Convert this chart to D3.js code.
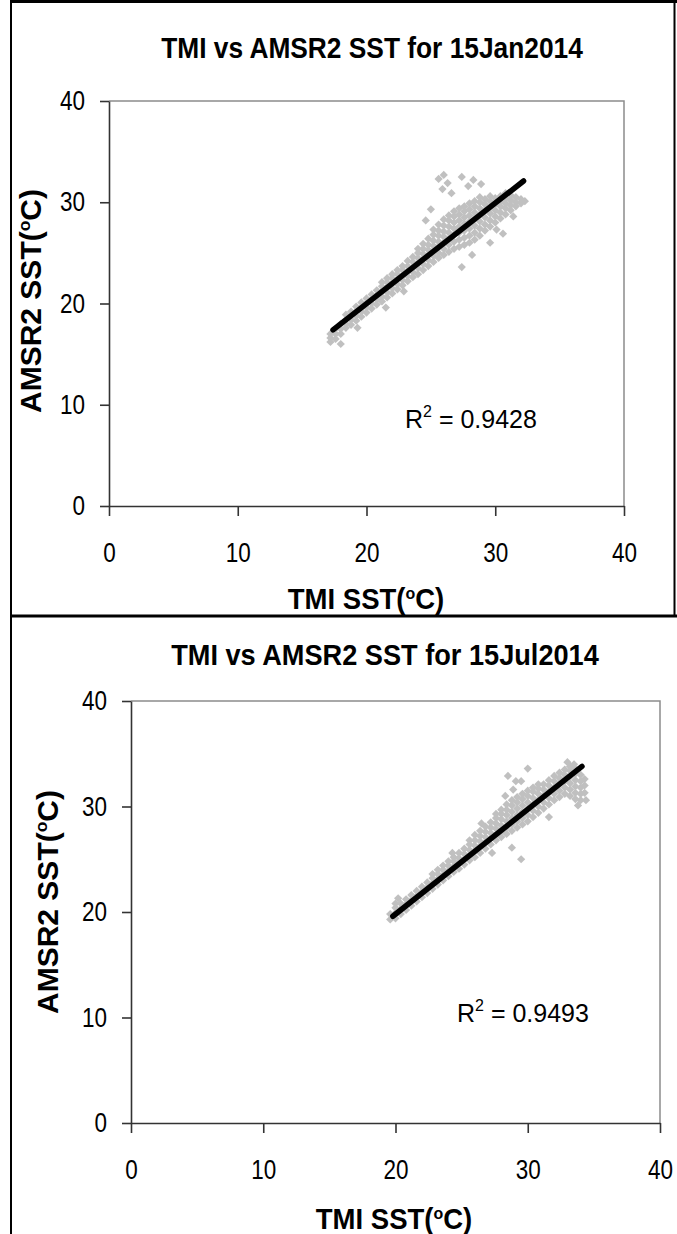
<!DOCTYPE html>
<html>
<head>
<meta charset="utf-8">
<script src="https://cdn.jsdelivr.net/npm/d3@7"></script>
<style>
  body { margin: 0; background: #fff; }
  svg { display: block; }
  text { font-family: "Liberation Sans", Arial, sans-serif; fill: #000; }
</style>
</head>
<body>
<svg id="chart" width="677" height="1234"></svg>
<script>
// ---- data -------------------------------------------------------------
const axisTicks = [0, 10, 20, 30, 40];
const panelTitles = ["TMI vs AMSR2 SST for 15Jan2014", "TMI vs AMSR2 SST for 15Jul2014"];
const rSquared = [0.9428, 0.9493];

// TMI SST (°C) -> list of AMSR2 SST (°C) values observed at that TMI value
const janCloud = [
  [17.2, [16.2, 16.6, 17.0]],
  [17.6, [16.5, 17.0, 17.5]],
  [18.0, [17.0, 17.5, 18.0]],
  [18.4, [17.6, 18.0, 18.4, 18.9]],
  [18.8, [17.9, 18.4, 18.8, 19.2]],
  [19.2, [18.3, 18.8, 19.2, 19.7]],
  [19.6, [18.7, 19.2, 19.6, 20.1]],
  [20.0, [19.1, 19.6, 20.0, 20.5]],
  [20.4, [19.5, 20.0, 20.4, 20.9]],
  [20.8, [19.9, 20.4, 20.8, 21.3]],
  [21.2, [20.2, 20.7, 21.2, 21.7, 22.1]],
  [21.6, [20.6, 21.1, 21.6, 22.1, 22.5]],
  [22.0, [21.0, 21.5, 22.0, 22.5, 22.9]],
  [22.4, [21.4, 21.9, 22.4, 22.9, 23.3]],
  [22.8, [21.8, 22.3, 22.8, 23.3, 23.7]],
  [23.2, [22.2, 22.7, 23.2, 23.7, 24.2]],
  [23.6, [22.6, 23.1, 23.6, 24.1, 24.6]],
  [24.0, [22.9, 23.5, 24.0, 24.5, 25.0, 25.4]],
  [24.4, [23.3, 23.9, 24.4, 24.9, 25.4, 25.9]],
  [24.8, [23.7, 24.3, 24.8, 25.3, 25.8, 26.4]],
  [25.2, [24.1, 24.7, 25.2, 25.7, 26.2, 26.8, 27.3]],
  [25.6, [24.5, 25.0, 25.6, 26.1, 26.7, 27.2, 27.8]],
  [26.0, [24.8, 25.4, 26.0, 26.6, 27.1, 27.7, 28.3]],
  [26.4, [25.1, 25.8, 26.4, 27.0, 27.6, 28.2, 28.7]],
  [26.8, [25.4, 26.1, 26.8, 27.4, 28.0, 28.6, 29.1]],
  [27.2, [25.6, 26.3, 27.0, 27.6, 28.2, 28.8, 29.4]],
  [27.6, [25.8, 26.5, 27.2, 27.9, 28.5, 29.1, 29.6]],
  [28.0, [26.0, 26.7, 27.4, 28.1, 28.7, 29.3, 29.9]],
  [28.4, [26.3, 27.0, 27.7, 28.4, 29.0, 29.6, 30.1]],
  [28.8, [26.7, 27.4, 28.1, 28.8, 29.4, 30.0, 30.5]],
  [29.2, [27.2, 27.8, 28.5, 29.2, 29.8, 30.3]],
  [29.6, [27.6, 28.2, 28.9, 29.5, 30.1, 30.6]],
  [30.0, [28.0, 28.6, 29.2, 29.8, 30.4]],
  [30.4, [28.4, 29.0, 29.6, 30.1, 30.6]],
  [30.8, [28.8, 29.4, 29.9, 30.4, 30.9]],
  [31.2, [29.2, 29.7, 30.2, 30.7]],
  [31.6, [29.6, 30.0, 30.5]],
  [32.0, [29.9, 30.3]]
];
const janOutliers = [
  [25.6, 32.3], [26.0, 32.7], [26.3, 31.9], [25.9, 31.3], [27.4, 32.5],
  [27.9, 31.6], [28.3, 32.2], [28.9, 31.8], [26.6, 30.9], [25.0, 29.3],
  [24.6, 28.2], [27.4, 23.6], [28.2, 24.8], [30.1, 27.3], [30.6, 26.9],
  [31.4, 28.6], [32.3, 30.1], [29.6, 26.0], [22.9, 21.2], [21.5, 19.6],
  [18.0, 16.0], [19.3, 17.6]
];
const janFit = [[17.4, 17.4], [32.2, 32.1]];

const julCloud = [
  [19.6, [19.3, 19.8]],
  [20.0, [19.4, 19.9, 20.4, 20.8]],
  [20.4, [19.8, 20.3, 20.8]],
  [20.8, [20.2, 20.7, 21.2]],
  [21.2, [20.6, 21.1, 21.6]],
  [21.6, [21.0, 21.5, 22.0]],
  [22.0, [21.4, 21.9, 22.4]],
  [22.4, [21.8, 22.3, 22.8]],
  [22.8, [22.2, 22.7, 23.2, 23.6]],
  [23.2, [22.6, 23.1, 23.6, 24.0]],
  [23.6, [23.0, 23.5, 24.0, 24.4]],
  [24.0, [23.4, 23.9, 24.4, 24.8]],
  [24.4, [23.8, 24.3, 24.8, 25.2]],
  [24.8, [24.1, 24.6, 25.1, 25.6]],
  [25.2, [24.5, 25.0, 25.5, 26.0]],
  [25.6, [24.9, 25.4, 25.9, 26.4, 26.8]],
  [26.0, [25.2, 25.8, 26.3, 26.8, 27.3]],
  [26.4, [25.6, 26.2, 26.7, 27.2, 27.7]],
  [26.8, [26.0, 26.6, 27.1, 27.6, 28.1]],
  [27.2, [26.4, 27.0, 27.5, 28.0, 28.5]],
  [27.6, [26.8, 27.3, 27.9, 28.4, 28.9, 29.3]],
  [28.0, [27.1, 27.6, 28.2, 28.8, 29.3, 29.7]],
  [28.4, [27.4, 28.0, 28.6, 29.2, 29.7, 30.2]],
  [28.8, [27.7, 28.3, 28.9, 29.5, 30.1, 30.6]],
  [29.2, [28.0, 28.6, 29.2, 29.8, 30.4, 30.9]],
  [29.6, [28.3, 28.9, 29.5, 30.1, 30.7, 31.2]],
  [30.0, [28.6, 29.2, 29.8, 30.4, 31.0, 31.5]],
  [30.4, [29.0, 29.6, 30.2, 30.8, 31.4, 31.8]],
  [30.8, [29.4, 30.0, 30.6, 31.2, 31.7, 32.1]],
  [31.2, [29.8, 30.4, 31.0, 31.6, 32.1]],
  [31.6, [30.2, 30.8, 31.4, 32.0, 32.5]],
  [32.0, [30.6, 31.2, 31.8, 32.4, 32.9]],
  [32.4, [30.9, 31.5, 32.1, 32.7, 33.2]],
  [32.8, [31.2, 31.8, 32.4, 33.0, 33.5]],
  [33.2, [31.0, 31.6, 32.2, 32.8, 33.4, 33.8]],
  [33.6, [30.7, 31.3, 31.9, 32.5, 33.1, 33.6]],
  [34.0, [30.6, 31.2, 31.8, 32.4, 33.0]],
  [34.3, [31.3, 32.0, 32.6]]
];
const julOutliers = [
  [28.5, 32.9], [29.1, 32.4], [29.5, 32.4], [30.0, 33.6], [28.9, 31.6],
  [28.3, 31.0], [29.5, 25.0], [28.8, 26.1], [31.6, 29.0], [33.0, 34.2],
  [33.5, 34.0], [26.5, 28.4], [27.3, 25.6], [24.3, 25.6], [20.2, 21.3],
  [34.4, 30.6], [33.8, 30.1]
];
const julFit = [[19.8, 19.6], [34.1, 33.8]];

// ---- layout -----------------------------------------------------------
const panels = [
  { title: panelTitles[0], cloud: janCloud, extra: janOutliers, fit: janFit, r2: rSquared[0],
    xr: [109, 624], yr: [506, 101], titleAt: [372, 58], titleScale: 0.94, xTitleAt: [366, 609],
    yTitleAt: [41, 301], r2At: [405, 428] },
  { title: panelTitles[1], cloud: julCloud, extra: julOutliers, fit: julFit, r2: rSquared[1],
    xr: [131, 660], yr: [1123, 701], titleAt: [385, 665], titleScale: 0.97, xTitleAt: [394, 1229],
    yTitleAt: [58, 902], r2At: [457, 1022] }
];

const svg = d3.select("#chart");
svg.append("rect").attr("width", 677).attr("height", 1234).attr("fill", "#fff");

// text with a small raised "o" standing in for the degree sign
function degreeText(g, before, after, size) {
  const t = g.append("text").attr("font-size", size).attr("font-weight", "bold");
  const up = size * 0.36;
  t.append("tspan").text(before);
  t.append("tspan").attr("font-size", size * 0.58).attr("dy", -up).text("o");
  t.append("tspan").attr("dy", up).text(after);
  return t;
}

// tick labels are set in a slightly condensed face
function condenseTicks(a, side) {
  a.selectAll(".tick text").each(function () {
    const t = d3.select(this);
    const tx = +t.attr("x") || 0;
    const ty = +t.attr("y") || 0;
    t.attr("x", 0).attr("y", 0)
      .attr("transform", `translate(${tx},${ty}) scale(0.9,1.08)`);
    if (side === "bottom") t.attr("dy", "0.71em");
  });
}

panels.forEach(p => {
  const x = d3.scaleLinear().domain([0, 40]).range(p.xr);
  const y = d3.scaleLinear().domain([0, 40]).range(p.yr);
  const g = svg.append("g");

  // plot frame (top and right edges)
  g.append("path")
    .attr("d", `M${x(0)},${y(40)}H${x(40)}V${y(0)}`)
    .attr("fill", "none").attr("stroke", "#8c8c8c").attr("stroke-width", 1.5);

  // scatter points
  const pts = p.cloud.flatMap(([t, arr]) => arr.map(a => [t, a])).concat(p.extra);
  const sym = d3.symbol(d3.symbolSquare, 34);
  g.append("g").selectAll("path").data(pts).join("path")
    .attr("d", sym)
    .attr("transform", d => `translate(${x(d[0])},${y(d[1])}) rotate(45)`)
    .attr("fill", "#c0c0c0");

  // linear trend line
  g.append("path")
    .attr("d", d3.line().x(d => x(d[0])).y(d => y(d[1]))(p.fit))
    .attr("fill", "none").attr("stroke", "#000").attr("stroke-width", 5.5)
    .attr("stroke-linecap", "round");

  // axes
  const ax = g.append("g").attr("transform", `translate(0,${y(0)})`)
    .call(d3.axisBottom(x).tickValues(axisTicks).tickSize(10).tickSizeOuter(0).tickPadding(27));
  const ay = g.append("g").attr("transform", `translate(${x(0)},0)`)
    .call(d3.axisLeft(y).tickValues(axisTicks).tickSize(9).tickSizeOuter(0).tickPadding(15));
  [ax, ay].forEach(a => {
    a.selectAll("path.domain").attr("stroke", "#333").attr("stroke-width", 1.6);
    a.selectAll(".tick line").attr("stroke", "#333").attr("stroke-width", 1.6);
    a.selectAll(".tick text").attr("font-size", 25).attr("fill", "#000")
      .attr("font-family", "'Liberation Sans', Arial, sans-serif");
  });
  condenseTicks(ax, "bottom");
  condenseTicks(ay, "left");

  // title
  g.append("g").attr("transform", `translate(${p.titleAt[0]},${p.titleAt[1]})`)
    .append("text").attr("text-anchor", "middle").attr("font-size", 28).attr("font-weight", "bold")
    .attr("transform", `scale(${p.titleScale},1.05)`).text(p.title);

  // x-axis title
  const xt = g.append("g").attr("transform", `translate(${p.xTitleAt[0]},${p.xTitleAt[1]}) scale(0.95,1)`);
  degreeText(xt, "TMI SST(", "C)", 29).attr("text-anchor", "middle");

  // y-axis title
  const yt = g.append("g").attr("transform", `translate(${p.yTitleAt[0]},${p.yTitleAt[1]}) rotate(-90)`);
  degreeText(yt, "AMSR2 SST(", "C)", 30).attr("text-anchor", "middle");

  // R² annotation
  const rt = g.append("text").attr("x", p.r2At[0]).attr("y", p.r2At[1]).attr("font-size", 25);
  rt.append("tspan").text("R");
  rt.append("tspan").attr("font-size", 16).attr("dy", -11).text("2");
  rt.append("tspan").attr("dy", 11).text(" = " + p.r2.toFixed(4));
});

// outer frame lines
const frame = svg.append("g").attr("stroke", "#000").attr("fill", "none");
frame.append("line").attr("x1", 10).attr("x2", 677).attr("y1", 1.5).attr("y2", 1.5).attr("stroke-width", 3);
frame.append("line").attr("x1", 11).attr("x2", 11).attr("y1", 0).attr("y2", 1234).attr("stroke-width", 2);
frame.append("line").attr("x1", 674.5).attr("x2", 674.5).attr("y1", 0).attr("y2", 616).attr("stroke-width", 2);
frame.append("line").attr("x1", 10).attr("x2", 677).attr("y1", 616).attr("y2", 616).attr("stroke-width", 3);
</script>
</body>
</html>
